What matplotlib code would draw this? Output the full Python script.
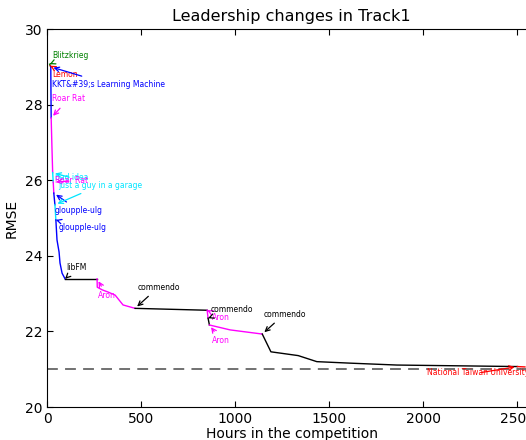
import matplotlib
matplotlib.use("Agg")
import matplotlib.pyplot as plt

# leadership stints: who led, in what colour, and the leaderboard RMSE over time
leaders = ["Blitzkrieg", "Lemon", "KKT&#39;s Learning Machine", "Roar Rat", "bad idea",
           "Roar Rat", "gloupple-ulg", "just a guy in a garage", "gloupple-ulg", "libFM",
           "Aron", "commendo", "Aron", "commendo", "Aron", "commendo",
           "National Taiwan University"]
colors = ["#008000", "#ff0000", "#0000ff", "#ff00ff", "#00e5ff", "#ff00ff", "#0000ff",
          "#00e5ff", "#0000ff", "#000000", "#ff00ff", "#000000", "#ff00ff", "#000000",
          "#ff00ff", "#000000", "#ff0000"]
hours = [
    [14, 17],
    [17, 20],
    [20, 21, 22],
    [22, 26, 30],
    [30, 33],
    [33, 36],
    [36, 42],
    [42, 47],
    [47, 53, 64, 69, 80, 96],
    [96, 266],
    [266, 267, 293, 325, 362, 404, 468],
    [468, 851],
    [851, 856],
    [856, 863],
    [863, 973, 1144],
    [1144, 1190, 1335, 1434, 1612, 1860, 2500],
    [2500, 2540],
]
rmse = [
    [29.07, 29.03],
    [29.03, 29.0],
    [29.0, 28.3, 27.65],
    [27.65, 26.9, 26.2],
    [26.2, 25.95],
    [25.95, 25.66],
    [25.66, 25.35],
    [25.35, 24.95],
    [24.95, 24.42, 24.1, 23.81, 23.54, 23.39],
    [23.39, 23.39],
    [23.39, 23.17, 23.1, 23.04, 22.96, 22.70, 22.61],
    [22.61, 22.56],
    [22.56, 22.35],
    [22.35, 22.17],
    [22.17, 22.04, 21.93],
    [21.93, 21.46, 21.36, 21.2, 21.16, 21.11, 21.07],
    [21.07, 21.06],
]
# where each leader's name is written
label_x = [27, 27, 27, 27, 43, 43, 43, 59, 59, 101,
           271, 479, 878, 872, 878, 1149, 2021]
label_y = [29.31, 28.81, 28.54, 28.15, 26.06, 25.98, 25.19, 25.87, 24.74, 23.68,
           22.94, 23.17, 22.38, 22.59, 21.75, 22.46, 20.9]
baseline = 21.0

fig = plt.figure(figsize=(5.26, 4.40), dpi=100)
ax = fig.add_axes([0.0894, 0.075, 0.93, 0.859])

for name, c, t, r, lx, ly in zip(leaders, colors, hours, rmse, label_x, label_y):
    ax.plot(t, r, color=c, lw=1.0)
    ax.annotate(name, xy=(t[0], r[0]), xytext=(lx, ly), color=c, fontsize=5.5,
                ha="left", va="center",
                arrowprops=dict(arrowstyle="->", color=c, lw=0.9, mutation_scale=8))

ax.axhline(baseline, color="0.4", ls="--", lw=1.3, dashes=(6, 4))

ax.set_xlim(0, 2600)
ax.set_ylim(20, 30)
ax.set_xticks([0, 500, 1000, 1500, 2000, 2500])
ax.set_yticks([20, 22, 24, 26, 28, 30])
ax.tick_params(direction="in", top=True, right=True, labelsize=10, length=4)
ax.set_title("Leadership changes in Track1", fontsize=11.5)
ax.set_xlabel("Hours in the competition", fontsize=10, labelpad=1)
ax.set_ylabel("RMSE", fontsize=10)

fig.savefig("out.png", dpi=100)
